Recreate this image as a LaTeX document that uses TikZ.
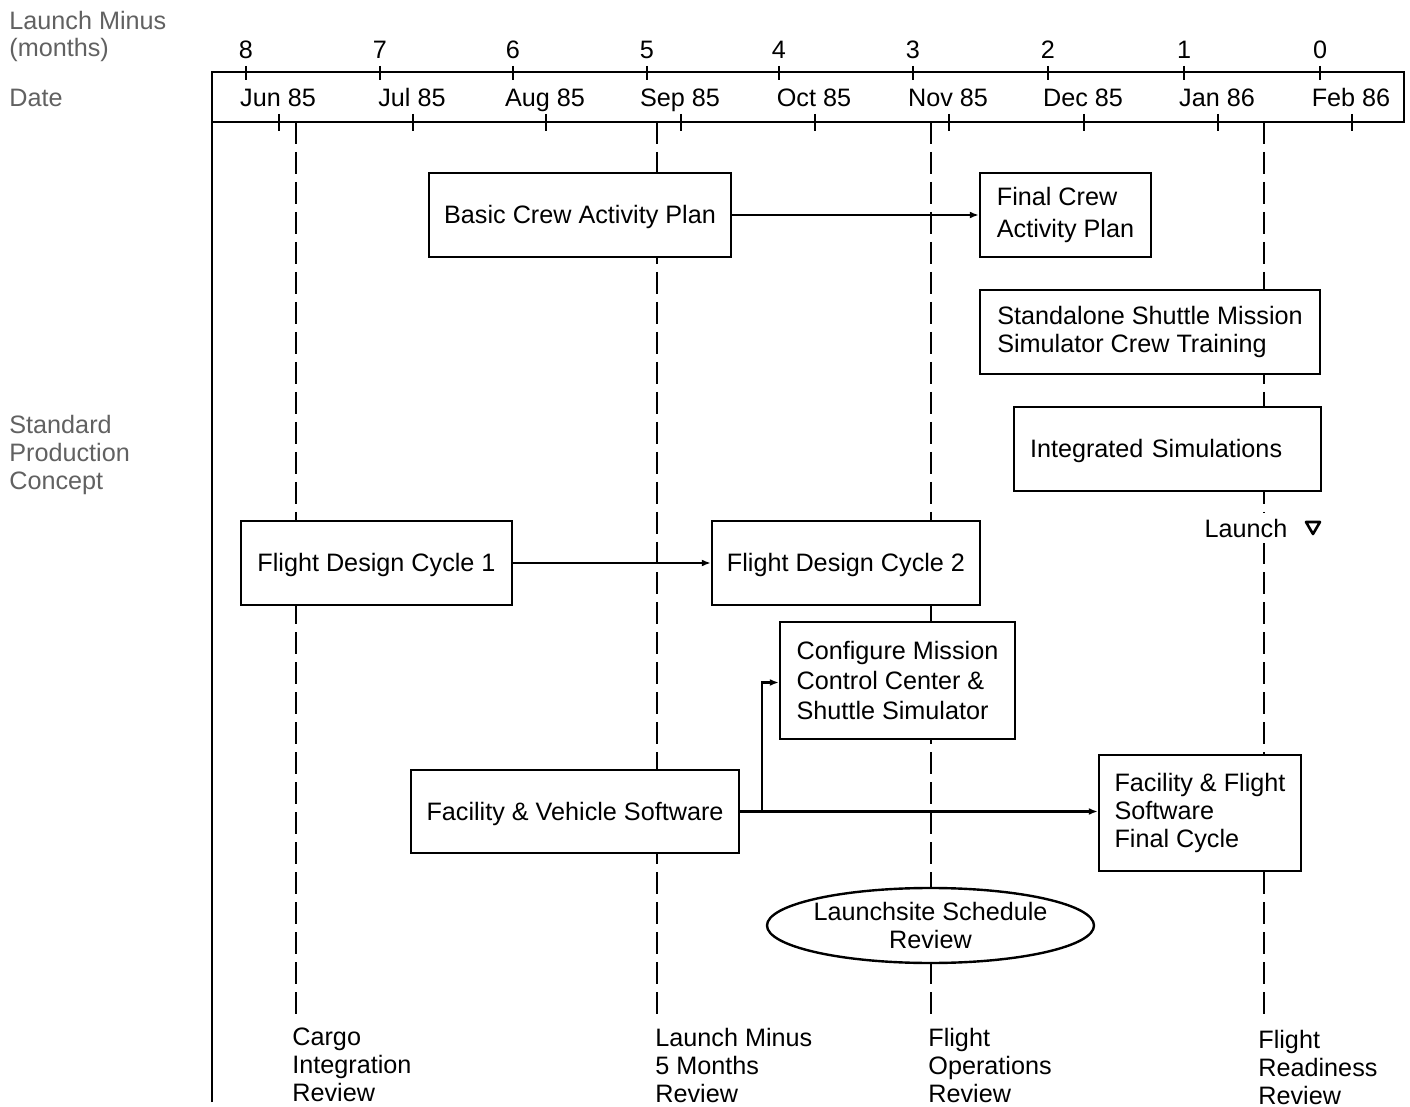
\documentclass[tikz,border=0pt]{standalone}
\usepackage{fontspec}
\setmainfont{Liberation Sans}
\usetikzlibrary{arrows.meta,shapes.geometric,calc}
\begin{document}
\begin{tikzpicture}[x=0.5pt,y=-0.5pt,
  every node/.style={font=\fontsize{12.6}{14}\selectfont},
  box/.style={draw,line width=1.2pt,fill=white,inner sep=0pt,minimum height=42pt},
  lbox/.style={box,align=left},
  oneline/.style={text height=8.8pt,text depth=0pt},
  conn/.style={line width=1.1pt},
  arr/.style={conn,-{Latex[length=4.5pt,width=3.5pt]}},
  milestone/.style={line width=1.1pt,dash pattern=on 11pt off 4pt},
  side/.style={text=black!62,align=left,anchor=west,inner sep=0pt},
  foot/.style={align=left,anchor=west,inner sep=0pt},
  frame/.style={line width=1.25pt},
  tick/.style={line width=1.1pt},
]
\useasboundingbox (0,0) rectangle (1410,1107);

% milestone review lines
\coordinate (m1t) at (296,122); \coordinate (m1b) at (296,1016);
\coordinate (m2t) at (657,122); \coordinate (m2b) at (657,1018);
\coordinate (m3t) at (931,122); \coordinate (m3b) at (931,1017);
\coordinate (m4t) at (1264,122); \coordinate (m4b) at (1264,1020);
\draw[milestone] (m1t) -- (m1b);
\draw[milestone] (m2t) -- (m2b);
\draw[milestone] (m3t) -- (m3b);
\draw[milestone] (m4t) -- (m4b);

% timeline frame
\draw[frame] (212,1102) -- (212,72) -- (1404,72) -- (1404,122) -- (212,122);
\foreach \x/\n in {246/8,380/7,513/6,647/5,779/4,913/3,1048/2,1184/1,1320/0}{
  \draw[tick] (\x,66) -- (\x,80);
  \node[anchor=base] (lm\n) at (\x,59) {\n};
}
\foreach \x/\d [count=\i] in {279/Jun 85,413/Jul 85,546/Aug 85,681/Sep 85,815/Oct 85,949/Nov 85,1084/Dec 85,1218/Jan 86,1352/Feb 86}{
  \draw[tick] (\x,114) -- (\x,131);
  \node[anchor=base] (dt\i) at (\x-1,107) {\d};
}

% side labels
\node[side,font=\fontsize{12.6}{13.5}\selectfont] (lmlab) at (9,36.5) {Launch Minus\\(months)};
\node[side] (datelab) at (9,98) {Date};
\node[side] (spc) at (9,455) {Standard\\Production\\Concept};

% boxes
\node[box,oneline,minimum width=151pt] (bcap) at (580,215) {Basic Crew Activity Plan};
\node[lbox,minimum width=85.5pt,font=\fontsize{12.6}{16}\selectfont] (fcap) at (1065.5,215) {Final Crew\\Activity Plan};
\node[lbox,minimum width=170pt] (ssm) at (1150,332) {Standalone Shuttle Mission\\Simulator Crew Training};
\node[lbox,oneline,minimum width=153.5pt,inner xsep=8pt,text width=137.5pt] (isim) at (1167.5,449) {Integrated Simulations};
\node[box,oneline,minimum width=135.5pt] (fdc1) at (376.5,563) {Flight Design Cycle 1};
\node[box,oneline,minimum width=134pt] (fdc2) at (846,563) {Flight Design Cycle 2};
\node[lbox,minimum width=117.5pt,minimum height=58.5pt,font=\fontsize{12.6}{15}\selectfont] (cfg) at (897.5,680.5) {Configure Mission\\Control Center \&\\Shuttle Simulator};
\node[box,oneline,minimum width=164pt,minimum height=41.5pt] (fvs) at (575,811.5) {Facility \& Vehicle Software};
\node[lbox,minimum width=101pt,minimum height=58pt] (ffs) at (1200,813) {Facility \& Flight\\Software\\Final Cycle};
\node[draw,ellipse,line width=1.2pt,fill=white,minimum width=163.5pt,minimum height=37.5pt,inner xsep=-4pt,inner ysep=0pt,align=center] (lsr) at (930.5,925.5) {Launchsite Schedule\\Review};

% launch marker
\node[fill=white,inner sep=3pt] (launch) at (1246,528) {Launch};
\coordinate (tri) at (1313,528);
\draw[line width=1.3pt,line join=round] ($(tri)+(-7,-6)$) -- ($(tri)+(7,-6)$) -- ($(tri)+(0,6)$) -- cycle;

% connectors
\draw[arr] (bcap.east) -- (fcap.west);
\draw[arr] (fdc1.east) -- (fdc2.west);
\draw[arr] (fvs.east) -- (fvs.east -| ffs.west);
\coordinate (br) at ($(fvs.east)+(22,0)$);
\draw[arr] (br) |- ($(cfg.west)+(0,2)$);
\draw[conn] (fdc2.south -| m3t) -- (cfg.north -| m3t);

% review labels
\node[foot] (cir) at (292,1065) {Cargo\\Integration\\Review};
\node[foot] (l5r) at (655,1065) {Launch Minus\\5 Months\\Review};
\node[foot] (for) at (928,1065) {Flight\\Operations\\Review};
\node[foot] (frr) at (1258,1067) {Flight\\Readiness\\Review};
\end{tikzpicture}
\end{document}
